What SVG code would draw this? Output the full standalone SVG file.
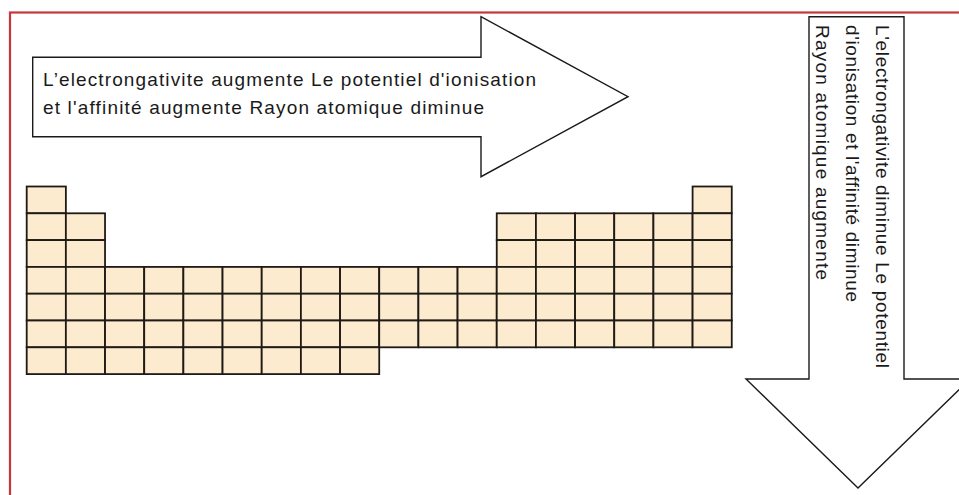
<svg xmlns="http://www.w3.org/2000/svg" width="959" height="495" viewBox="0 0 959 495">
<style>
.frame{fill:#ffffff;stroke:#c7363d;stroke-width:2.2}
.arrow{fill:#ffffff;stroke:#1a1a1a;stroke-width:1.4;stroke-linejoin:miter}
.cell{fill:#fdebd0;stroke:#1f1a15;stroke-width:1.8}
.label{font-family:"Liberation Sans",Arial,Helvetica,sans-serif;font-size:19px;fill:#1a1a1a}
</style>
<rect x="0" y="0" width="959" height="495" fill="#ffffff"/>
<g id="frame">
<rect class="frame" x="10" y="12.5" width="965" height="495"/>
</g>
<g id="arrow-right">
<polygon class="arrow" points="32.7,57.3 481,57.3 481,16.7 628,96.7 481,176.7 481,136.7 32.7,136.7"/>
<text class="label" x="43" y="86" textLength="493">L’electrongativite augmente Le potentiel d'ionisation</text>
<text class="label" x="43" y="113.5" textLength="441">et l'affinité augmente Rayon atomique diminue</text>
</g>
<g id="arrow-down">
<polygon class="arrow" points="809,16.7 904,16.7 904,379 970,379 858,488 746,379 809,379"/>
<text class="label" transform="translate(876,25) rotate(90)" textLength="343">L'electrongativite diminue Le potentiel</text>
<text class="label" transform="translate(846,25) rotate(90)" textLength="277">d'ionisation et l'affinité diminue</text>
<text class="label" transform="translate(816,25) rotate(90)" textLength="255">Rayon atomique augmente</text>
</g>
<g id="periodic-table">
<!-- col 0 -->
<rect class="cell" x="26.70" y="186.5" width="39.17" height="26.8"/>
<rect class="cell" x="26.70" y="213.3" width="39.17" height="26.8"/>
<rect class="cell" x="26.70" y="240.1" width="39.17" height="26.8"/>
<rect class="cell" x="26.70" y="266.9" width="39.17" height="26.8"/>
<rect class="cell" x="26.70" y="293.7" width="39.17" height="26.8"/>
<rect class="cell" x="26.70" y="320.5" width="39.17" height="26.8"/>
<rect class="cell" x="26.70" y="347.3" width="39.17" height="26.8"/>
<!-- col 1 -->
<rect class="cell" x="65.87" y="213.3" width="39.17" height="26.8"/>
<rect class="cell" x="65.87" y="240.1" width="39.17" height="26.8"/>
<rect class="cell" x="65.87" y="266.9" width="39.17" height="26.8"/>
<rect class="cell" x="65.87" y="293.7" width="39.17" height="26.8"/>
<rect class="cell" x="65.87" y="320.5" width="39.17" height="26.8"/>
<rect class="cell" x="65.87" y="347.3" width="39.17" height="26.8"/>
<!-- cols 2-8, rows 3-6 -->
<rect class="cell" x="105.04" y="266.9" width="39.17" height="26.8"/>
<rect class="cell" x="105.04" y="293.7" width="39.17" height="26.8"/>
<rect class="cell" x="105.04" y="320.5" width="39.17" height="26.8"/>
<rect class="cell" x="105.04" y="347.3" width="39.17" height="26.8"/>
<rect class="cell" x="144.21" y="266.9" width="39.17" height="26.8"/>
<rect class="cell" x="144.21" y="293.7" width="39.17" height="26.8"/>
<rect class="cell" x="144.21" y="320.5" width="39.17" height="26.8"/>
<rect class="cell" x="144.21" y="347.3" width="39.17" height="26.8"/>
<rect class="cell" x="183.38" y="266.9" width="39.17" height="26.8"/>
<rect class="cell" x="183.38" y="293.7" width="39.17" height="26.8"/>
<rect class="cell" x="183.38" y="320.5" width="39.17" height="26.8"/>
<rect class="cell" x="183.38" y="347.3" width="39.17" height="26.8"/>
<rect class="cell" x="222.55" y="266.9" width="39.17" height="26.8"/>
<rect class="cell" x="222.55" y="293.7" width="39.17" height="26.8"/>
<rect class="cell" x="222.55" y="320.5" width="39.17" height="26.8"/>
<rect class="cell" x="222.55" y="347.3" width="39.17" height="26.8"/>
<rect class="cell" x="261.72" y="266.9" width="39.17" height="26.8"/>
<rect class="cell" x="261.72" y="293.7" width="39.17" height="26.8"/>
<rect class="cell" x="261.72" y="320.5" width="39.17" height="26.8"/>
<rect class="cell" x="261.72" y="347.3" width="39.17" height="26.8"/>
<rect class="cell" x="300.89" y="266.9" width="39.17" height="26.8"/>
<rect class="cell" x="300.89" y="293.7" width="39.17" height="26.8"/>
<rect class="cell" x="300.89" y="320.5" width="39.17" height="26.8"/>
<rect class="cell" x="300.89" y="347.3" width="39.17" height="26.8"/>
<rect class="cell" x="340.06" y="266.9" width="39.17" height="26.8"/>
<rect class="cell" x="340.06" y="293.7" width="39.17" height="26.8"/>
<rect class="cell" x="340.06" y="320.5" width="39.17" height="26.8"/>
<rect class="cell" x="340.06" y="347.3" width="39.17" height="26.8"/>
<!-- cols 9-11, rows 3-5 -->
<rect class="cell" x="379.23" y="266.9" width="39.17" height="26.8"/>
<rect class="cell" x="379.23" y="293.7" width="39.17" height="26.8"/>
<rect class="cell" x="379.23" y="320.5" width="39.17" height="26.8"/>
<rect class="cell" x="418.40" y="266.9" width="39.17" height="26.8"/>
<rect class="cell" x="418.40" y="293.7" width="39.17" height="26.8"/>
<rect class="cell" x="418.40" y="320.5" width="39.17" height="26.8"/>
<rect class="cell" x="457.57" y="266.9" width="39.17" height="26.8"/>
<rect class="cell" x="457.57" y="293.7" width="39.17" height="26.8"/>
<rect class="cell" x="457.57" y="320.5" width="39.17" height="26.8"/>
<!-- cols 12-16, rows 1-5 -->
<rect class="cell" x="496.74" y="213.3" width="39.17" height="26.8"/>
<rect class="cell" x="496.74" y="240.1" width="39.17" height="26.8"/>
<rect class="cell" x="496.74" y="266.9" width="39.17" height="26.8"/>
<rect class="cell" x="496.74" y="293.7" width="39.17" height="26.8"/>
<rect class="cell" x="496.74" y="320.5" width="39.17" height="26.8"/>
<rect class="cell" x="535.91" y="213.3" width="39.17" height="26.8"/>
<rect class="cell" x="535.91" y="240.1" width="39.17" height="26.8"/>
<rect class="cell" x="535.91" y="266.9" width="39.17" height="26.8"/>
<rect class="cell" x="535.91" y="293.7" width="39.17" height="26.8"/>
<rect class="cell" x="535.91" y="320.5" width="39.17" height="26.8"/>
<rect class="cell" x="575.08" y="213.3" width="39.17" height="26.8"/>
<rect class="cell" x="575.08" y="240.1" width="39.17" height="26.8"/>
<rect class="cell" x="575.08" y="266.9" width="39.17" height="26.8"/>
<rect class="cell" x="575.08" y="293.7" width="39.17" height="26.8"/>
<rect class="cell" x="575.08" y="320.5" width="39.17" height="26.8"/>
<rect class="cell" x="614.25" y="213.3" width="39.17" height="26.8"/>
<rect class="cell" x="614.25" y="240.1" width="39.17" height="26.8"/>
<rect class="cell" x="614.25" y="266.9" width="39.17" height="26.8"/>
<rect class="cell" x="614.25" y="293.7" width="39.17" height="26.8"/>
<rect class="cell" x="614.25" y="320.5" width="39.17" height="26.8"/>
<rect class="cell" x="653.42" y="213.3" width="39.17" height="26.8"/>
<rect class="cell" x="653.42" y="240.1" width="39.17" height="26.8"/>
<rect class="cell" x="653.42" y="266.9" width="39.17" height="26.8"/>
<rect class="cell" x="653.42" y="293.7" width="39.17" height="26.8"/>
<rect class="cell" x="653.42" y="320.5" width="39.17" height="26.8"/>
<!-- col 17, rows 0-5 -->
<rect class="cell" x="692.59" y="186.5" width="39.17" height="26.8"/>
<rect class="cell" x="692.59" y="213.3" width="39.17" height="26.8"/>
<rect class="cell" x="692.59" y="240.1" width="39.17" height="26.8"/>
<rect class="cell" x="692.59" y="266.9" width="39.17" height="26.8"/>
<rect class="cell" x="692.59" y="293.7" width="39.17" height="26.8"/>
<rect class="cell" x="692.59" y="320.5" width="39.17" height="26.8"/>
</g>
</svg>
